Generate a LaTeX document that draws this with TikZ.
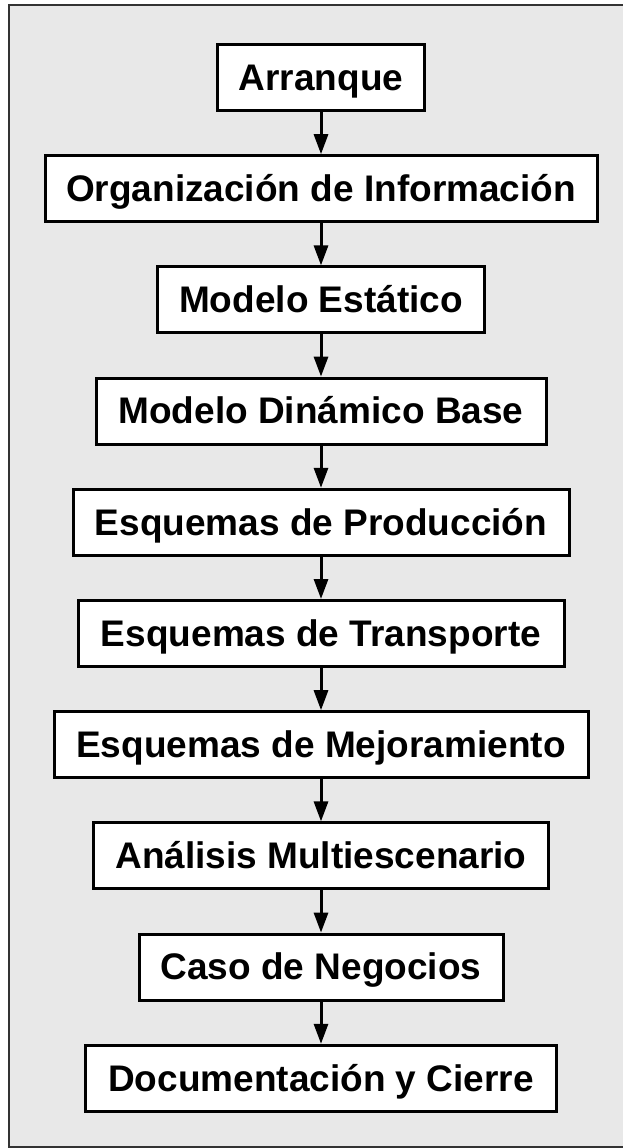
\documentclass[tikz,border=0pt]{standalone}
\usepackage{fontspec}
\setmainfont{Liberation Sans}
\usepackage{tikz}
\usetikzlibrary{arrows,arrows.meta,positioning}
\definecolor{fondo}{gray}{0.91}

\begin{document}
\begin{tikzpicture}[->,>={Triangle[length=20pt,width=14pt]},auto,node distance=42.2pt,
                    line width=3pt]
  \tikzstyle{etapa}=[draw,fill=white,rectangle,text=black,inner xsep=0pt,minimum height=66pt,
                     text height=25.5pt,text depth=0pt,
                     font=\fontsize{37}{44}\selectfont\bfseries]

  \useasboundingbox (0,0) rectangle (622pt,-1148pt);
  \draw[-,line width=1.5pt,draw=black!80,fill=fondo] (9pt,-5pt) rectangle (624pt,-1147pt);

  \node[etapa,minimum width=207pt]	(arranque)  at (321pt,-77.5pt)	{Arranque};
  \node[etapa,minimum width=552pt]	(organiz)   [below=of arranque]	{Organización de Información};
  \node[etapa,minimum width=327pt]	(estatico)  [below=of organiz]	{Modelo Estático};
  \node[etapa,minimum width=450pt]	(dinamico)  [below=of estatico]	{Modelo Dinámico Base};
  \node[etapa,minimum width=496pt]	(produc)    [below=of dinamico]	{Esquemas de Producción};
  \node[etapa,minimum width=486pt]	(transp)    [below=of produc]	{Esquemas de Transporte};
  \node[etapa,minimum width=534pt]	(mejora)    [below=of transp]	{Esquemas de Mejoramiento};
  \node[etapa,minimum width=455pt]	(multiesc)  [below=of mejora]	{Análisis Multiescenario};
  \node[etapa,minimum width=364pt]	(negocios)  [below=of multiesc]	{Caso de Negocios};
  \node[etapa,minimum width=471pt]	(cierre)    [below=of negocios]	{Documentación y Cierre};

  \path (arranque) edge 	(organiz);
  \path (organiz)  edge 	(estatico);
  \path (estatico) edge 	(dinamico);
  \path (dinamico) edge 	(produc);
  \path (produc)   edge 	(transp);
  \path (transp)   edge 	(mejora);
  \path (mejora)   edge 	(multiesc);
  \path (multiesc) edge 	(negocios);
  \path (negocios) edge 	(cierre);

\end{tikzpicture}
\end{document}
